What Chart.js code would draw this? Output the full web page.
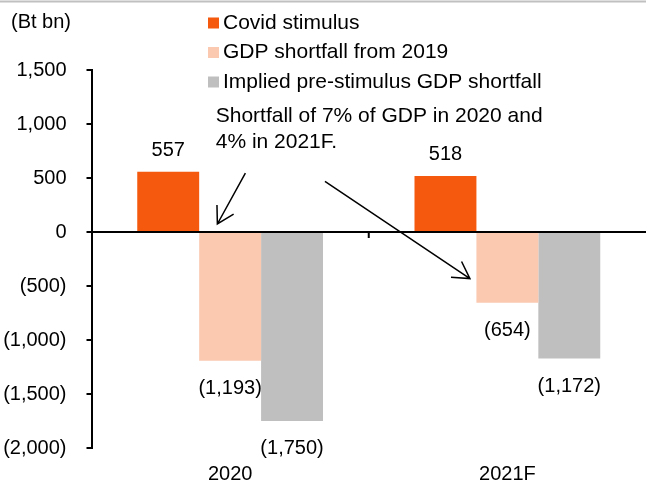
<!DOCTYPE html>
<html lang="en">
<head>
<meta charset="UTF-8">
<title>Covid stimulus vs GDP shortfall</title>
<script src="https://cdn.jsdelivr.net/npm/chart.js"></script>
<style>
    body { margin: 0; background: #fff; }
    #wrap { width: 646px; height: 486px; }
</style>
</head>
<body>
<div id="wrap"><canvas id="chart" width="646" height="486"></canvas></div>
<script>
const categories = ['2020', '2021F'];
const stimulus = [557, 518];
const gdpShortfall = [-1193, -654];
const impliedShortfall = [-1750, -1172];
const yTicks = { min: -2000, max: 1500, step: 500 };

const unitLabel = '(Bt bn)';
const noteLines = ['Shortfall of 7% of GDP in 2020 and', '4% in 2021F.'];
// annotation anchors in data space: [category offset, value]
const noteAnchor = [-0.052, 1020];
const arrows = [
    { from: [0.055, 546], to: [-0.046, 74] },
    { from: [0.342, 468], to: [0.865, -431] }
];

const FONT = '"Liberation Sans", Arial, sans-serif';
Chart.defaults.font.family = FONT;
Chart.defaults.font.size = 20;
Chart.defaults.color = '#000';

function fmt(v) {
    if (v === 0) return '0';
    const s = Math.abs(v).toLocaleString('en-US');
    return v < 0 ? '(' + s + ')' : s;
}

const decorations = {
    id: 'decorations',
    beforeDraw(chart) {
        const ctx = chart.ctx;
        ctx.save();
        ctx.strokeStyle = '#c0c0c0';
        ctx.lineWidth = 2;
        ctx.beginPath();
        ctx.moveTo(0, 1.5);
        ctx.lineTo(chart.width, 1.5);
        ctx.stroke();
        ctx.restore();
    },
    afterDatasetsDraw(chart) {
        const ctx = chart.ctx;
        const x = chart.scales.x, y = chart.scales.y;
        const area = chart.chartArea;
        ctx.save();

        // zero line + category divider tick
        const y0 = y.getPixelForValue(0);
        ctx.strokeStyle = '#000';
        ctx.lineWidth = 2;
        ctx.beginPath();
        ctx.moveTo(area.left, y0);
        ctx.lineTo(chart.width, y0);
        const mid = (x.getPixelForValue(0) + x.getPixelForValue(1)) / 2;
        ctx.moveTo(mid, y0);
        ctx.lineTo(mid, y0 + 6);
        ctx.stroke();

        // value labels
        ctx.font = '20px ' + FONT;
        ctx.fillStyle = '#000';
        ctx.textAlign = 'center';
        ctx.textBaseline = 'alphabetic';
        chart.data.datasets.forEach((ds, i) => {
            chart.getDatasetMeta(i).data.forEach((bar, j) => {
                const v = ds.data[j];
                const ty = v >= 0 ? bar.y - 16 : bar.y + 33;
                ctx.fillText(fmt(v), bar.x, ty);
            });
        });

        // unit label
        ctx.textAlign = 'left';
        ctx.fillText(unitLabel, 11, 28);

        // legend
        ctx.font = '21px ' + FONT;
        chart.data.datasets.forEach((ds, i) => {
            const cy = 23 + i * 29.5;
            ctx.fillStyle = ds.backgroundColor;
            ctx.fillRect(208, cy - 5.5, 11, 11);
            ctx.fillStyle = '#000';
            ctx.fillText(ds.label, 223, cy + 5.5);
        });

        // note text
        const px = p => x.getPixelForValue(0) + p[0] * (x.getPixelForValue(1) - x.getPixelForValue(0));
        const nx = px(noteAnchor);
        const ny = y.getPixelForValue(noteAnchor[1]);
        noteLines.forEach((t, k) => ctx.fillText(t, nx, ny + k * 26));

        // arrows
        ctx.lineWidth = 1.5;
        arrows.forEach(a => {
            const x1 = px(a.from), y1 = y.getPixelForValue(a.from[1]);
            const x2 = px(a.to), y2 = y.getPixelForValue(a.to[1]);
            const ang = Math.atan2(y2 - y1, x2 - x1);
            const head = 19, spread = Math.PI / 6;
            ctx.beginPath();
            ctx.moveTo(x1, y1);
            ctx.lineTo(x2, y2);
            ctx.moveTo(x2 - head * Math.cos(ang - spread), y2 - head * Math.sin(ang - spread));
            ctx.lineTo(x2, y2);
            ctx.lineTo(x2 - head * Math.cos(ang + spread), y2 - head * Math.sin(ang + spread));
            ctx.stroke();
        });
        ctx.restore();
    }
};

new Chart(document.getElementById('chart').getContext('2d'), {
    type: 'bar',
    data: {
        labels: categories,
        datasets: [
            { label: 'Covid stimulus', data: stimulus, backgroundColor: '#f4590e' },
            { label: 'GDP shortfall from 2019', data: gdpShortfall, backgroundColor: '#fac9b0' },
            { label: 'Implied pre-stimulus GDP shortfall', data: impliedShortfall, backgroundColor: '#bfbfbf' }
        ]
    },
    options: {
        responsive: false,
        animation: false,
        layout: { padding: { top: 70, left: 2, right: 0, bottom: 0 } },
        datasets: { bar: { categoryPercentage: 0.67, barPercentage: 1.0, borderWidth: 0 } },
        plugins: { legend: { display: false }, tooltip: { enabled: false } },
        scales: {
            x: {
                grid: { display: false, drawTicks: false },
                border: { display: false },
                ticks: { padding: 14 },
                afterFit: s => { s.height = 38; }
            },
            y: {
                min: yTicks.min,
                max: yTicks.max,
                grid: { drawOnChartArea: false, drawTicks: true, tickLength: 5, color: '#000', lineWidth: 2 },
                border: { display: true, color: '#000', width: 2 },
                ticks: { stepSize: yTicks.step, padding: 20, callback: v => fmt(v) },
                afterFit: s => { s.width = 89.5; }
            }
        }
    },
    plugins: [decorations]
});
</script>
</body>
</html>
